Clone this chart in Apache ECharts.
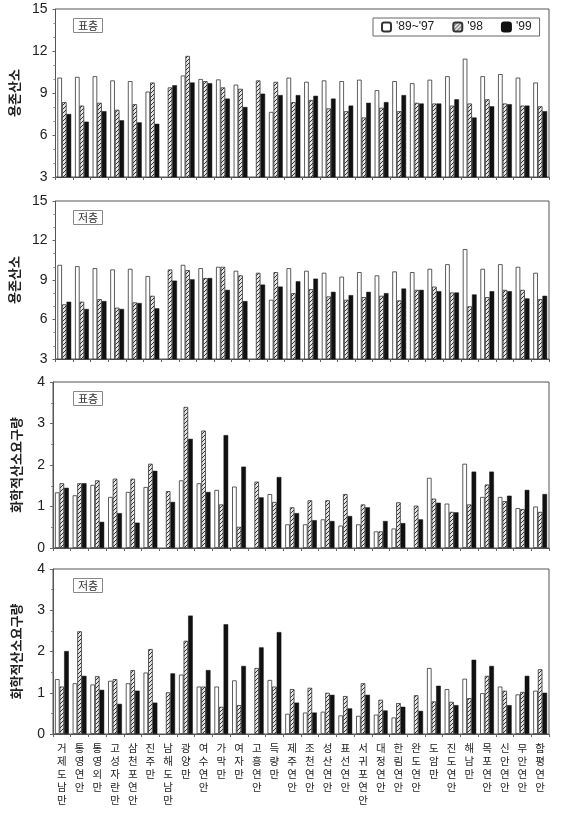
<!DOCTYPE html>
<html><head><meta charset="utf-8">
<script src="https://cdn.jsdelivr.net/npm/echarts@6/dist/echarts.min.js"></script>
<style>html,body{margin:0;padding:0;background:#fff}#c{width:565px;height:817px}</style>
</head><body><div id="c"></div>
<script>
const categories = ["거제도남만","통영연안","통영외만","고성자란만","삼천포연안","진주만","남해도남만","광양만","여수연안","가막만","여자만","고흥연안","득량만","제주연안","조천연안","성산연안","표선연안","서귀포연안","대정연안","한림연안","완도연안","도암만","진도연안","해남만","목포연안","신안연안","무안연안","함평연안"];
const seriesNames = ["'89~'97","'98","'99"];
const panelLabels = ["표층","저층","표층","저층"];
const doTicks = [3,6,9,12,15];
const codTicks = [0,1,2,3,4];

const doSurf8997 = [10.1,10.15,10.2,9.9,9.85,9.1,null,10.25,10.0,9.97,9.6,null,7.65,10.1,9.8,9.9,9.85,9.95,9.2,9.85,9.7,9.95,10.2,11.45,10.2,10.35,10.1,9.75];
const doSurf98 = [8.35,8.1,8.3,7.8,8.2,9.75,9.4,11.65,9.85,9.4,9.3,9.9,9.8,8.35,8.5,7.9,7.7,7.25,7.95,7.7,8.3,8.25,8.1,8.25,8.55,8.25,8.1,8.05];
const doSurf99 = [7.5,6.95,7.7,7.05,6.9,6.8,9.55,9.75,9.7,8.6,8.0,8.95,8.85,8.85,8.8,8.6,8.1,8.3,8.35,8.85,8.25,8.25,8.55,7.25,8.05,8.2,8.1,7.7];

const doBot8997 = [10.15,10.05,9.9,9.8,9.85,9.3,null,10.15,9.9,10.0,9.7,null,7.5,9.9,9.7,9.55,9.25,9.6,9.35,9.65,9.6,9.85,10.2,11.35,9.85,10.2,10.0,9.55];
const doBot98 = [7.15,7.35,7.55,6.9,7.3,7.8,9.8,9.75,9.15,10.0,9.35,9.55,9.6,8.0,8.3,7.75,7.5,7.7,7.8,7.45,8.25,8.5,8.05,7.0,7.7,8.25,8.25,7.55];
const doBot99 = [7.35,6.8,7.4,6.8,7.25,6.85,8.95,9.05,9.15,8.25,7.4,8.65,8.5,8.9,9.1,8.1,7.85,8.1,8.0,8.35,8.25,8.15,8.05,7.9,8.15,8.15,7.6,7.8];

const codSurf8997 = [1.34,1.27,1.52,1.23,1.35,1.47,null,1.63,1.56,1.4,1.48,null,1.3,0.57,0.57,0.69,0.54,0.57,0.4,0.47,null,1.69,1.07,2.03,1.23,1.23,0.96,1.0];
const codSurf98 = [1.56,1.56,1.63,1.67,1.67,2.03,1.37,3.4,2.83,1.05,0.51,1.6,1.11,0.98,1.15,1.15,1.3,1.05,0.4,1.1,1.02,1.19,0.87,1.05,1.53,1.13,0.94,0.87];
const codSurf99 = [1.45,1.56,0.63,0.84,0.61,1.86,1.11,2.63,1.35,2.72,1.96,1.22,1.71,0.84,0.67,0.65,0.77,0.98,0.65,0.6,0.69,1.09,0.86,1.84,1.84,1.26,1.4,1.3];

const codBot8997 = [1.33,1.23,1.2,1.29,1.23,1.49,null,1.44,1.15,1.15,1.3,null,1.31,0.49,0.52,0.54,0.45,0.44,0.47,0.4,null,1.6,1.09,1.34,0.99,1.15,0.96,1.05];
const codBot98 = [1.15,2.49,1.4,1.33,1.55,2.06,1.01,2.26,1.15,0.66,0.7,1.6,1.15,1.09,1.12,1.0,0.92,1.23,0.83,0.75,0.94,0.79,0.78,0.87,1.41,1.05,1.02,1.57];
const codBot99 = [2.01,1.41,1.07,0.73,1.05,0.76,1.47,2.87,1.55,2.66,1.65,2.1,2.47,0.76,0.52,0.95,0.62,0.95,0.57,0.66,0.56,1.17,0.7,1.8,1.65,0.7,1.41,1.0];

const panels = [
  {data:[doSurf8997,doSurf98,doSurf99], ticks:doTicks, name:"용존산소"},
  {data:[doBot8997,doBot98,doBot99], ticks:doTicks, name:"용존산소"},
  {data:[codSurf8997,codSurf98,codSurf99], ticks:codTicks, name:"화학적산소요구량"},
  {data:[codBot8997,codBot98,codBot99], ticks:codTicks, name:"화학적산소요구량"}
];

// hatch pattern
const pc = document.createElement('canvas');
pc.width = 4; pc.height = 4;
const px = pc.getContext('2d');
px.fillStyle = '#e6e6e6'; px.fillRect(0,0,4,4);
px.fillStyle = '#333';
px.fillRect(0,3,1,1); px.fillRect(1,2,1,1); px.fillRect(2,1,1,1); px.fillRect(3,0,1,1);

const gridBoxes = [
  {top:9, height:168},
  {top:201, height:158},
  {top:382, height:166},
  {top:569, height:165}
];
const font = "'Liberation Sans', 'Noto Sans CJK KR', sans-serif";
const kfont = "'Noto Sans CJK KR', sans-serif";

const styles = [
  {color:'#ffffff', borderColor:'#333', borderWidth:0.8},
  {color:{image:pc, repeat:'repeat'}, borderColor:'#333', borderWidth:0.8},
  {color:'#111111', borderColor:'#111', borderWidth:0.5}
];

const grid = gridBoxes.map(g => ({left:53, right:16, top:g.top, height:g.height, show:true, borderColor:'#555', borderWidth:1, backgroundColor:'transparent'}));
const xAxis = panels.map((p,i) => ({
  type:'category', gridIndex:i, data:categories,
  axisLine:{show:true, lineStyle:{color:'#555'}},
  axisTick:{show:true, length:3, lineStyle:{color:'#666'}},
  axisLabel:{show:i===3, interval:0, fontFamily:kfont, fontSize:10.5, color:'#222', lineHeight:13, margin:8,
    formatter: v => v.split('').join('\n')}
}));
const yAxis = panels.map((p,i) => ({
  type:'value', gridIndex:i, min:p.ticks[0], max:p.ticks[p.ticks.length-1], interval:p.ticks[1]-p.ticks[0],
  name:p.name, nameLocation:'middle', nameGap:30, nameRotate:90,
  nameTextStyle:{fontFamily:kfont, fontSize:13, fontWeight:'bold', color:'#222'},
  axisLine:{show:true, lineStyle:{color:'#555'}},
  axisTick:{show:true, length:3, lineStyle:{color:'#666'}},
  minorTick:{show:true, splitNumber: i<2 ? 3 : 2, length:2, lineStyle:{color:'#888'}},
  splitLine:{show:false},
  axisLabel:{fontFamily:font, fontSize:14, color:'#222', margin:8}
}));
const series = [];
panels.forEach((p,i) => {
  p.data.forEach((arr,k) => {
    series.push({
      type:'bar', name:seriesNames[k], xAxisIndex:i, yAxisIndex:i, data:arr,
      barWidth:4.6, barGap:'0%', itemStyle:styles[k], emphasis:{disabled:true}
    });
  });
});
const title = panelLabels.map((t,i) => ({
  text:t, left:73, top:gridBoxes[i].top + 9,
  textStyle:{fontFamily:kfont, fontSize:11, fontWeight:'normal', color:'#333'},
  borderColor:'#888', borderWidth:1, padding:[2,5]
}));

const chart = echarts.init(document.getElementById('c'), null, {renderer:'canvas'});
chart.setOption({
  animation:false,
  backgroundColor:'#fff',
  title,
  legend:{
    data:seriesNames, left:373, top:18, itemWidth:9, itemHeight:9, itemGap:18,
    borderColor:'#666', borderWidth:1, padding:[3,8],
    textStyle:{fontFamily:font, fontSize:12, color:'#222'}
  },
  grid, xAxis, yAxis, series
});
</script></body></html>
